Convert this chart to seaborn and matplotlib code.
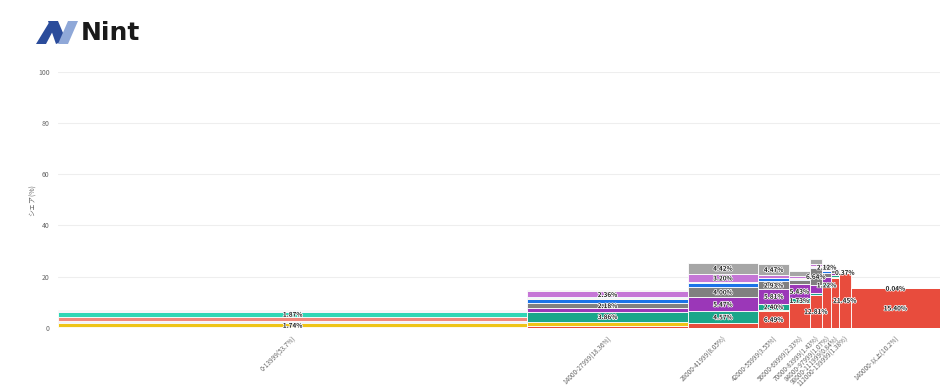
import matplotlib
matplotlib.use("Agg")
import matplotlib.pyplot as plt
import seaborn as sns
import numpy as np
from matplotlib.patches import Polygon
import matplotlib.patheffects as pe

# ---- data ----
categories = ["0-13999(53.7%)", "14000-27999(18.36%)", "28000-41999(8.05%)",
              "42000-55999(3.55%)", "56000-69999(2.33%)", "70000-83999(1.43%)",
              "84000-97999(1.07%)", "98000-111999(0.84%)", "112000-139999(1.38%)",
              "140000-以上(10.2%)"]
widths = [53.7, 18.36, 8.05, 3.55, 2.33, 1.43, 1.07, 0.84, 1.38, 10.2]

series_names = ["A", "B", "C", "D", "E", "F", "G", "H", "I", "J"]
series_colors = ["#e84c3d", "#eec417", "#1ba68a", "#9b37b8", "#808080",
                 "#1a73e8", "#f1877b", "#2fd6b5", "#c576d6", "#a6a6a6"]

s_red       = [0.10, 0.50, 1.70, 6.49, 9.70, 12.81, 16.00, 19.60, 21.45, 15.40]
s_yellow    = [1.74, 1.90, 0.20, 0.50, 0.10, 0.10, 0.10, 0.10, 0.00, 0.00]
s_teal      = [0.10, 3.86, 4.57, 2.40, 1.73, 0.80, 1.22, 1.00, 0.00, 0.00]
s_purple    = [0.05, 1.30, 5.47, 5.81, 5.43, 3.00, 2.50, 0.50, 0.00, 0.00]
s_gray      = [0.05, 2.18, 4.00, 2.93, 1.50, 6.64, 1.50, 1.50, 0.00, 0.00]
s_blue      = [0.60, 1.60, 1.60, 1.20, 0.70, 0.50, 0.80, 0.40, 0.00, 0.00]
s_salmon    = [1.70, 0.20, 0.10, 0.10, 0.10, 0.10, 0.10, 0.00, 0.00, 0.00]
s_turquoise = [1.87, 0.30, 0.20, 0.10, 0.10, 0.10, 0.10, 0.00, 0.00, 0.00]
s_orchid    = [0.50, 2.36, 3.20, 1.00, 1.00, 0.80, 0.30, 0.10, 0.00, 0.00]
s_lightgray = [0.10, 0.40, 4.42, 4.47, 2.00, 2.20, 2.12, 0.30, 0.37, 0.04]
series_values = [s_red, s_yellow, s_teal, s_purple, s_gray, s_blue,
                 s_salmon, s_turquoise, s_orchid, s_lightgray]

# (column index, series index) of segments that carry a value label
labeled = [(0, 1), (0, 7),
           (1, 2), (1, 4), (1, 8),
           (2, 2), (2, 3), (2, 4), (2, 8), (2, 9),
           (3, 0), (3, 2), (3, 3), (3, 4), (3, 9),
           (4, 2), (4, 3),
           (5, 0), (5, 4),
           (6, 2), (6, 9),
           (8, 0), (8, 9),
           (9, 0), (9, 9)]

y_ticks = [0, 20, 40, 60, 80, 100]
y_label = "シェア(%)"

# ---- drawing ----
sns.set_theme(style="white")
plt.rcParams["font.family"] = ["Noto Sans CJK JP", "DejaVu Sans"]

fig = plt.figure(figsize=(9.52, 3.88), dpi=100)
ax = fig.add_axes([58 / 952, 1 - 327.7 / 388, (940 - 58) / 952, (327.7 - 72) / 388])

w = np.array(widths)
lefts = np.concatenate([[0], np.cumsum(w)[:-1]])
centers = lefts + w / 2
bottoms = np.zeros(len(categories))
seg_pos = {}
for si, vals in enumerate(series_values):
    v = np.array(vals)
    ax.bar(lefts, v, width=w, bottom=bottoms, align="edge",
           color=series_colors[si], edgecolor="white", linewidth=0.6, zorder=3)
    for ci in range(len(categories)):
        seg_pos[(ci, si)] = (centers[ci], bottoms[ci] + v[ci] / 2, v[ci])
    bottoms = bottoms + v

for (ci, si) in labeled:
    x, y, v = seg_pos[(ci, si)]
    ax.text(x, y, f"{v:.2f}%", ha="center", va="center", fontsize=4.6,
            fontweight="bold", color="#222222", zorder=5,
            path_effects=[pe.withStroke(linewidth=1.0, foreground="white")])

ax.set_xlim(0, w.sum())
ax.set_ylim(0, 100)
ax.set_yticks(y_ticks)
ax.set_yticklabels([str(t) for t in y_ticks], fontsize=5, color="#666666")
ax.set_xticks(centers)
ax.set_xticklabels(categories, rotation=45, ha="right", rotation_mode="anchor",
                   fontsize=4.6, color="#666666")
ax.tick_params(axis="x", length=0, pad=5)
ax.tick_params(axis="y", length=0, pad=6)
ax.set_ylabel(y_label, fontsize=5, color="#666666", labelpad=1)
ax.grid(axis="y", color="#eeeeee", linewidth=0.8, zorder=0)
for s in ax.spines.values():
    s.set_visible(False)

# ---- logo ----
def fig_poly(pts, color):
    P = [(x / 952, 1 - y / 388) for x, y in pts]
    fig.patches.append(Polygon(P, closed=True, transform=fig.transFigure,
                               facecolor=color, edgecolor="none"))

fig_poly([(36, 44), (46, 44), (55, 27), (50, 21)], "#2b4c9b")
fig_poly([(48, 21), (58, 21), (66, 40), (56, 44)], "#2b4c9b")
fig_poly([(58, 44), (68, 44), (78, 21), (68, 21)], "#8fa8d8")
fig.text(81 / 952, 1 - 33 / 388, "Nint", fontsize=18, fontweight="bold",
         color="#1a1a1a", va="center", ha="left", family="DejaVu Sans")

fig.savefig("out.png", dpi=100)
